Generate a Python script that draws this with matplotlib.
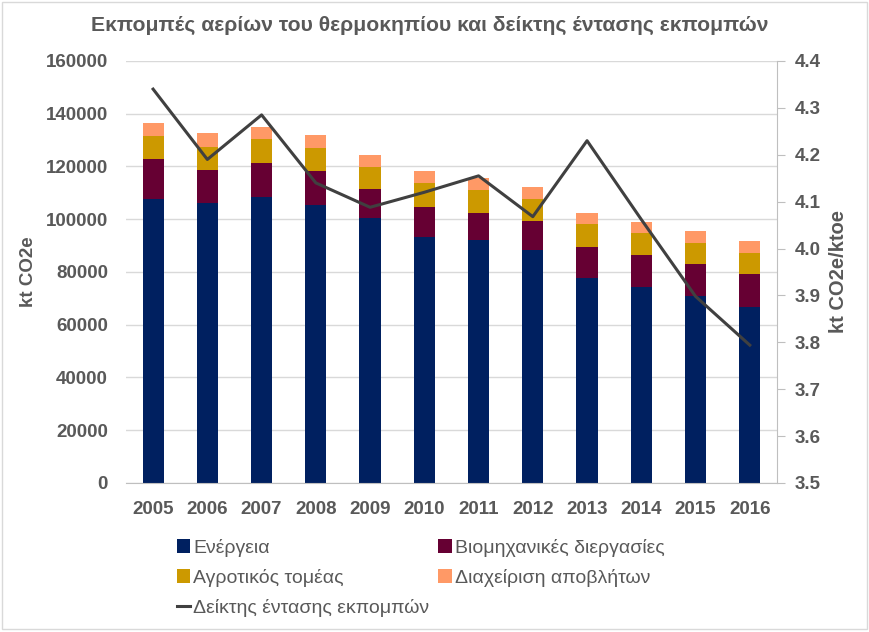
import matplotlib
matplotlib.use('Agg')
import matplotlib.pyplot as plt
import numpy as np

years = ['2005', '2006', '2007', '2008', '2009', '2010',
         '2011', '2012', '2013', '2014', '2015', '2016']
energy = [107600, 106000, 108300, 105300, 100500, 93100,
          92100, 88300, 77800, 74200, 70900, 66800]
industry = [15150, 12700, 13150, 12850, 11000, 11650,
            10350, 11100, 11750, 12400, 12000, 12400]
agriculture = [8850, 8850, 8850, 8850, 8450, 9100,
               8600, 8350, 8700, 8200, 8100, 8000]
waste = [4800, 5050, 4800, 4800, 4550, 4550,
         4400, 4400, 4300, 4300, 4400, 4500]
intensity = [4.34, 4.19, 4.285, 4.14, 4.088, 4.12,
             4.155, 4.068, 4.23, 4.062, 3.898, 3.794]

labels = ['Ενέργεια', 'Βιομηχανικές διεργασίες', 'Αγροτικός τομέας',
          'Διαχείριση αποβλήτων', 'Δείκτης έντασης εκπομπών']
colors = ['#002060', '#660033', '#CC9900', '#FF9966']
txt = '#595959'

plt.rcParams['font.family'] = ['Liberation Sans', 'DejaVu Sans']

fig = plt.figure(figsize=(8.7, 6.32), dpi=100)
ax1 = fig.add_axes([0.1448, 0.2358, 0.893 - 0.1448, 0.9035 - 0.2358])

x = np.arange(len(years))
w = 0.39
bottom = np.zeros(len(years))
bars = []
for vals, c in zip([energy, industry, agriculture, waste], colors):
    b = ax1.bar(x, vals, w, bottom=bottom, color=c, zorder=2)
    bars.append(b)
    bottom += np.array(vals)

ax1.set_ylim(0, 160000)
ax1.set_xlim(-0.5, len(years) - 0.5)
ax1.set_yticks(np.arange(0, 160001, 20000))
ax1.yaxis.grid(True, color='#d9d9d9', linewidth=1.0, zorder=0)
ax1.set_axisbelow(True)
ax1.set_xticks(x)
ax1.set_xticklabels(years)
ax1.tick_params(axis='both', length=0, labelsize=13.5, colors=txt)
ax1.tick_params(axis='x', pad=13)
ax1.tick_params(axis='y', pad=13)
for t in ax1.get_xticklabels() + ax1.get_yticklabels():
    t.set_fontweight('bold')
for s in ['top', 'left', 'right']:
    ax1.spines[s].set_visible(False)
ax1.spines['bottom'].set_color('#bfbfbf')
ax1.set_ylabel('kt CO2e', fontsize=13.5, fontweight='bold', color=txt, labelpad=6)

ax2 = ax1.twinx()
line, = ax2.plot(x, intensity, color='#404040', linewidth=2.2, zorder=3)
ax2.set_ylim(3.5, 4.4)
ax2.set_yticks(np.arange(3.5, 4.41, 0.1))
ax2.set_yticklabels(['%.1f' % v for v in np.arange(3.5, 4.41, 0.1)])
ax2.tick_params(axis='y', length=6, labelsize=13.5, colors=txt, pad=7)
ax2.tick_params(axis='y', color='#bfbfbf')
for t in ax2.get_yticklabels():
    t.set_fontweight('bold')
for s in ['top', 'left', 'bottom']:
    ax2.spines[s].set_visible(False)
ax2.spines['right'].set_color('#bfbfbf')
ax2.set_ylabel('kt CO2e/ktoe', fontsize=14.5, fontweight='bold', color=txt, labelpad=6)

fig.suptitle('Εκπομπές αερίων του θερμοκηπίου και δείκτης έντασης εκπομπών',
             x=0.494, y=0.975, fontsize=15.2, fontweight='bold', color=txt)

handles = [bars[0], bars[2], line, bars[1], bars[3]]
leg_labels = [labels[0], labels[2], labels[4], labels[1], labels[3]]
leg = fig.legend(handles, leg_labels, ncol=2, loc='upper left',
                 bbox_to_anchor=(0.192, 0.163), frameon=False,
                 fontsize=14, handlelength=0.7, handleheight=0.7,
                 handletextpad=0.15, columnspacing=0.45, labelspacing=0.62,
                 borderpad=0)
for t in leg.get_texts():
    t.set_color(txt)

fig.patches.append(plt.Rectangle((0.002, 0.004), 0.994, 0.993, fill=False,
                                 edgecolor='#d9d9d9', linewidth=1.0,
                                 transform=fig.transFigure, figure=fig))

fig.savefig('out.png', dpi=100)
